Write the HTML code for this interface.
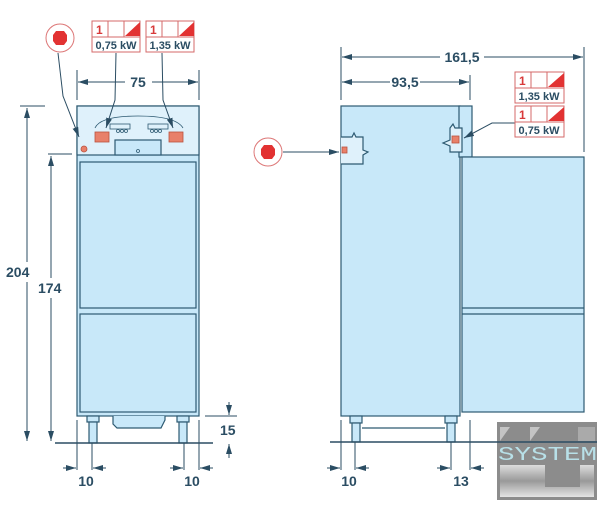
<!DOCTYPE html>
<html><head><meta charset="utf-8"><style>
html,body{margin:0;padding:0;background:#fff;width:600px;height:507px;overflow:hidden}
svg{display:block}
.d{font-family:"Liberation Sans",sans-serif;font-weight:bold;font-size:14px;fill:#2b4d63}
.k{font-family:"Liberation Sans",sans-serif;font-weight:bold;font-size:11px;fill:#2b4d63}
.r{font-family:"Liberation Sans",sans-serif;font-weight:bold;font-size:12px;fill:#d83a3a}
</style></head><body>
<svg width="600" height="507" viewBox="0 0 600 507" xmlns="http://www.w3.org/2000/svg">
<defs>
<marker id="a" markerWidth="10" markerHeight="6" refX="10" refY="3" orient="auto" markerUnits="userSpaceOnUse"><path d="M0,0 L10,3 L0,6 Z" fill="#2b4d63"/></marker>
<linearGradient id="sil" x1="0" y1="0" x2="0" y2="1"><stop offset="0" stop-color="#ddd"/><stop offset="0.5" stop-color="#999"/><stop offset="1" stop-color="#e4e4e4"/></linearGradient>
</defs>
<g stroke="#2d5a72" stroke-width="1.2" fill="#c8e8f9">
<!-- left unit -->
<rect x="77" y="106" width="122" height="310"/>
<rect x="77" y="106" width="122" height="49" fill="#dff1fb"/>
<rect x="80" y="162" width="116" height="146"/>
<rect x="80" y="314" width="116" height="98"/>
<rect x="115" y="140" width="46" height="15" fill="#c8e8f9"/>
<path d="M113,416 L113,424 L117,428 L161,428 L165,420 L165,416" fill="#c8e8f9"/>
<rect x="87" y="416" width="12" height="6"/><rect x="89" y="422" width="8" height="21"/>
<rect x="177" y="416" width="12" height="6"/><rect x="179" y="422" width="8" height="21"/>
<!-- right unit -->
<rect x="341" y="106" width="119" height="310"/>
<rect x="459" y="106" width="13" height="51"/>
<rect x="462" y="157" width="122" height="255"/>
<line x1="462" y1="308" x2="584" y2="308"/><line x1="462" y1="314" x2="584" y2="314"/>
<rect x="350" y="416" width="12" height="7"/><rect x="352" y="423" width="8" height="19"/>
<rect x="445" y="416" width="12" height="7"/><rect x="447" y="423" width="8" height="19"/>
<line x1="362" y1="428" x2="445" y2="428"/>
<path d="M341,137 L352,137 L354,133 L356,137 L363,137 L363,150 L368,152 L363,155 L363,164 L341,164" fill="#dff1fb"/>
<path d="M450,128 L453,124 L455,128 L462,128 L462,152 L450,152 L450,146 L443,143 L450,140 Z" fill="#dff1fb"/>
</g>
<g fill="#e8806a" stroke="#b9523f" stroke-width="0.8">
<rect x="95" y="132" width="14" height="10"/><rect x="169" y="132" width="14" height="10"/>
<rect x="342" y="147" width="5" height="6"/><rect x="452" y="136" width="7" height="7"/>
<circle cx="84" cy="149" r="3"/>
</g>
<g stroke="#2d5a72" stroke-width="0.8" fill="none">
<path d="M95,128 Q100,116 138,116 Q176,116 183,128"/>
<rect x="110" y="124" width="20" height="5"/><rect x="148" y="124" width="20" height="5"/>
<circle cx="118" cy="131" r="1.5"/><circle cx="122" cy="131" r="1.5"/><circle cx="126" cy="131" r="1.5"/>
<circle cx="152" cy="131" r="1.5"/><circle cx="156" cy="131" r="1.5"/><circle cx="160" cy="131" r="1.5"/>
<circle cx="138" cy="151" r="1.5"/>
</g>
<!-- floors -->
<g stroke="#2b4d63" stroke-width="1.5"><line x1="55" y1="443" x2="213" y2="443"/><line x1="330" y1="442" x2="582" y2="442"/></g>
<!-- dimension lines -->
<g stroke="#2b4d63" stroke-width="1" fill="none">
<line x1="20" y1="106" x2="45" y2="106"/><line x1="48" y1="154" x2="72" y2="154"/>
<line x1="27" y1="262" x2="27" y2="108" marker-end="url(#a)"/><line x1="27" y1="282" x2="27" y2="441" marker-end="url(#a)"/>
<line x1="51" y1="298" x2="51" y2="441" marker-end="url(#a)"/><line x1="51" y1="278" x2="51" y2="156" marker-end="url(#a)"/>
<line x1="77" y1="70" x2="77" y2="100"/><line x1="199" y1="70" x2="199" y2="100"/>
<line x1="125" y1="82" x2="78" y2="82" marker-end="url(#a)"/><line x1="152" y1="82" x2="198" y2="82" marker-end="url(#a)"/>
<line x1="205" y1="416" x2="237" y2="416"/>
<line x1="229" y1="402" x2="229" y2="415" marker-end="url(#a)"/><line x1="229" y1="458" x2="229" y2="444" marker-end="url(#a)"/>
<line x1="77" y1="420" x2="77" y2="470"/><line x1="92" y1="443" x2="92" y2="470"/>
<line x1="63" y1="468" x2="76" y2="468" marker-end="url(#a)"/><line x1="106" y1="468" x2="93" y2="468" marker-end="url(#a)"/>
<line x1="184" y1="443" x2="184" y2="470"/><line x1="199" y1="420" x2="199" y2="470"/>
<line x1="170" y1="468" x2="183" y2="468" marker-end="url(#a)"/><line x1="213" y1="468" x2="200" y2="468" marker-end="url(#a)"/>
<line x1="341" y1="47" x2="341" y2="100"/><line x1="584" y1="47" x2="584" y2="152"/><line x1="470" y1="75" x2="470" y2="100"/>
<line x1="440" y1="57" x2="342" y2="57" marker-end="url(#a)"/><line x1="484" y1="57" x2="583" y2="57" marker-end="url(#a)"/>
<line x1="390" y1="82" x2="342" y2="82" marker-end="url(#a)"/><line x1="420" y1="82" x2="469" y2="82" marker-end="url(#a)"/>
<line x1="341" y1="420" x2="341" y2="470"/><line x1="355" y1="442" x2="355" y2="470"/>
<line x1="327" y1="468" x2="340" y2="468" marker-end="url(#a)"/><line x1="369" y1="468" x2="356" y2="468" marker-end="url(#a)"/>
<line x1="451" y1="442" x2="451" y2="470"/><line x1="470" y1="420" x2="470" y2="470"/>
<line x1="437" y1="468" x2="450" y2="468" marker-end="url(#a)"/><line x1="484" y1="468" x2="471" y2="468" marker-end="url(#a)"/>
<!-- leaders -->
<path d="M58,53 L63,96 L79,137" marker-end="url(#a)"/>
<path d="M116,53 L115,100 L106,128" marker-end="url(#a)"/>
<path d="M162,53 L163,100 L173,128" marker-end="url(#a)"/>
<line x1="283" y1="152" x2="339" y2="152" marker-end="url(#a)"/>
<path d="M515,123 L492,123 L464,138" marker-end="url(#a)"/>
</g>
<!-- dimension text -->
<text class="d" x="6" y="277">204</text>
<text class="d" x="38" y="293">174</text>
<text class="d" x="138" y="87" text-anchor="middle">75</text>
<text class="d" x="220" y="435">15</text>
<text class="d" x="86" y="486" text-anchor="middle">10</text>
<text class="d" x="192" y="486" text-anchor="middle">10</text>
<text class="d" x="462" y="62" text-anchor="middle">161,5</text>
<text class="d" x="405" y="87" text-anchor="middle">93,5</text>
<text class="d" x="349" y="486" text-anchor="middle">10</text>
<text class="d" x="461" y="486" text-anchor="middle">13</text>
<!-- red circles -->
<circle cx="60" cy="38" r="14" fill="#fff" stroke="#d77" stroke-width="1"/>
<polygon points="56,31 64,31 67,35 67,41 64,45 56,45 53,41 53,35" fill="#e23232"/>
<circle cx="268" cy="152" r="14" fill="#fff" stroke="#d77" stroke-width="1"/>
<polygon points="264,145 272,145 275,149 275,155 272,159 264,159 261,155 261,149" fill="#e23232"/>
<!-- kW boxes -->
<g stroke="#d46a6a" stroke-width="1" fill="#fff">
<rect x="92" y="21" width="48" height="16"/><line x1="108" y1="21" x2="108" y2="37"/><line x1="124" y1="21" x2="124" y2="37"/><rect x="92" y="37" width="48" height="15"/>
<rect x="146" y="21" width="48" height="16"/><line x1="162" y1="21" x2="162" y2="37"/><line x1="178" y1="21" x2="178" y2="37"/><rect x="146" y="37" width="48" height="15"/>
<rect x="515" y="72" width="49" height="16"/><line x1="531" y1="72" x2="531" y2="88"/><line x1="547" y1="72" x2="547" y2="88"/><rect x="515" y="88" width="49" height="15"/>
<rect x="515" y="106" width="49" height="16"/><line x1="531" y1="106" x2="531" y2="122"/><line x1="547" y1="106" x2="547" y2="122"/><rect x="515" y="122" width="49" height="15"/>
</g>
<g fill="#e23232">
<polygon points="140,22 140,36 125,36"/><polygon points="194,22 194,36 179,36"/>
<polygon points="564,73 564,87 548,87"/><polygon points="564,107 564,121 548,121"/>
</g>
<text class="r" x="96" y="34">1</text><text class="r" x="150" y="34">1</text>
<text class="r" x="519" y="85">1</text><text class="r" x="519" y="119">1</text>
<text class="k" x="116" y="49" text-anchor="middle">0,75 kW</text>
<text class="k" x="170" y="49" text-anchor="middle">1,35 kW</text>
<text class="k" x="539" y="100" text-anchor="middle">1,35 kW</text>
<text class="k" x="539" y="134" text-anchor="middle">0,75 kW</text>
<!-- logo -->
<rect x="497" y="422" width="100" height="78" fill="#8c8c8c"/>
<polygon points="500,427 510,427 500,441" fill="#c4c4c4"/><polygon points="530,427 540,427 530,441" fill="#c4c4c4"/>
<rect x="578" y="427" width="17" height="14" fill="#aaa"/>
<rect x="500" y="465" width="94" height="32" fill="url(#sil)"/>
<rect x="545" y="465" width="35" height="22" fill="#8c8c8c"/>
<line x1="497" y1="442" x2="597" y2="442" stroke="#2b4d63" stroke-width="1.5"/>
<text x="498" y="460" font-family="Liberation Mono,monospace" font-size="19" fill="#b8e0e8" textLength="99" lengthAdjust="spacingAndGlyphs">SYSTEM</text>
</svg>
</body></html>
